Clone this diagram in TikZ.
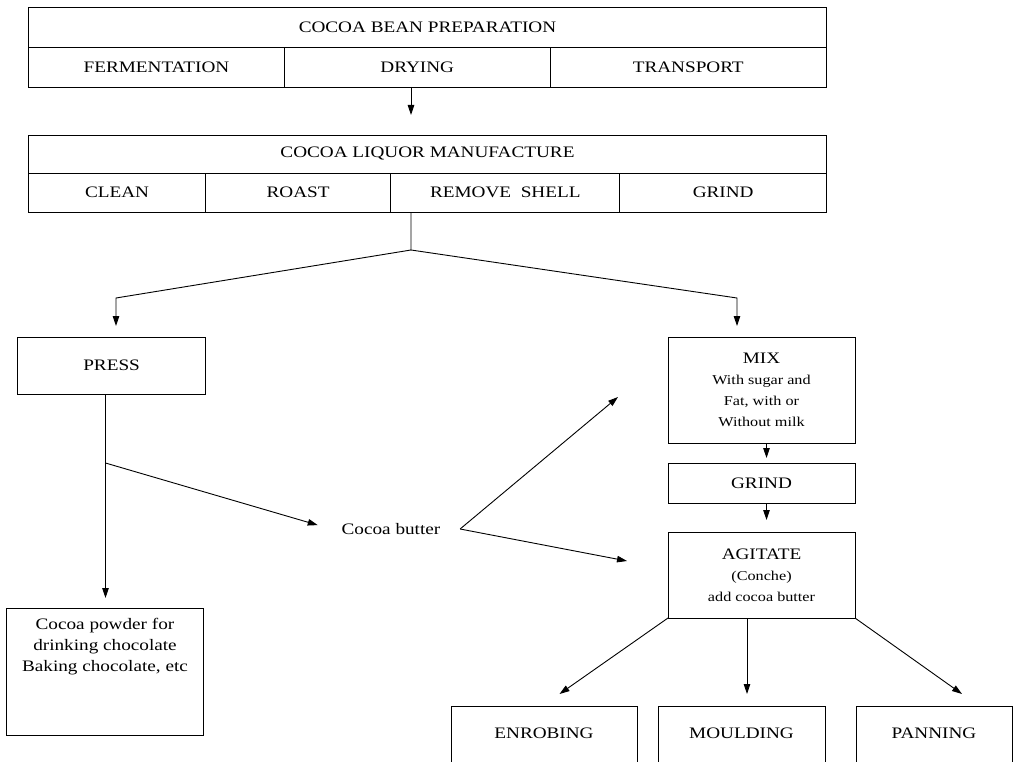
\documentclass[tikz,border=0pt]{standalone}
\usepackage{fontspec}
\setmainfont{Liberation Serif}[FakeStretch=1.2]
\usetikzlibrary{positioning,arrows.meta}
\newcommand\bigtxt{\fontsize{16}{21}\selectfont}
\newcommand\smalltxt{\fontsize{13.5}{19}\selectfont}

\begin{document}
\begin{tikzpicture}[x=1pt, y=-1pt, line width=0.9pt,
                    box/.style={draw, inner sep=0pt, outer sep=0pt, align=center, font=\bigtxt},
                    outbox/.style={box, anchor=north, text height=32pt, text depth=70pt},
                    arrow/.style={-{Triangle[length=10pt,width=6.5pt]}}]
    \useasboundingbox (0,0) rectangle (1014,762);
    % Bean preparation
    \node[box, minimum width=798, minimum height=40] (prep) at (427.5,27) {COCOA BEAN PREPARATION};
    \node[box, minimum width=256, minimum height=40, anchor=north west] (ferm) at (prep.south west) {FERMENTATION};
    \node[box, minimum width=265.5, minimum height=40, right=0pt of ferm] (dry) {DRYING};
    \node[box, minimum width=276.5, minimum height=40, right=0pt of dry] (trans) {TRANSPORT};
    % Liquor manufacture
    \node[box, minimum width=798, minimum height=38] (liquor) at (427.5,154) {COCOA LIQUOR MANUFACTURE};
    \node[box, minimum width=177, minimum height=39, anchor=north west] (clean) at (liquor.south west) {CLEAN};
    \node[box, minimum width=185.3, minimum height=39, right=0pt of clean] (roast) {ROAST};
    \node[box, minimum width=229, minimum height=39, right=0pt of roast] (shell) {REMOVE\ \ SHELL};
    \node[box, minimum width=206.7, minimum height=39, right=0pt of shell] (grinda) {GRIND};
    % Press side
    \node[box, minimum width=188, minimum height=57] (press) at (111.6,365.5) {PRESS};
    \node[box, minimum width=197.5, minimum height=127] (powder) at (105,671.5) {};
    \node[font=\bigtxt, align=center, below=6pt of powder.north] (powdertxt)
        {Cocoa powder for\\drinking chocolate\\Baking chocolate, etc};
    \node[font=\bigtxt] (butter) at (391,529) {Cocoa butter};
    % Chocolate side
    \node[box, minimum width=187, minimum height=106] (mix) at (761.5,390)
        {MIX\\\smalltxt With sugar and\\\smalltxt Fat, with or\\\smalltxt Without milk};
    \node[box, minimum width=187, minimum height=40, below=20pt of mix] (grindb) {GRIND};
    \node[box, minimum width=187, minimum height=86, below=29pt of grindb] (agitate)
        {AGITATE\\\smalltxt (Conche)\\\smalltxt add cocoa butter};
    \node[outbox, minimum width=186] (enrob) at (544,706) {ENROBING};
    \node[outbox, minimum width=167] (mould) at (741.5,706) {MOULDING};
    \node[outbox, minimum width=156] (pan) at (934,706) {PANNING};
    % Junctions
    \coordinate (split) at (411,250);
    \coordinate (lbend) at (116,298);
    \coordinate (rbend) at (737,298);
    \coordinate (pjoin) at (105.5,463);
    \coordinate (bjoin) at ([xshift=16pt]butter.east);
    \coordinate (mixtip) at (618,397);
    \coordinate (agitip) at (627,561);
    % Arrows
    \draw[arrow, shorten >=20pt] (dry.south -| split) -- (liquor.north -| split);
    \draw[arrow, shorten >=11pt] (shell.south -| split) -- (split) -- (lbend) -- (press.north -| lbend);
    \draw[arrow, shorten >=11pt] (split) -- (rbend) -- (mix.north -| rbend);
    \draw (press.south -| pjoin) -- (pjoin);
    \draw[arrow, shorten >=10pt] (pjoin) -- (powder.north -| pjoin);
    \draw[arrow, shorten >=21pt] (pjoin) -- ([yshift=-2pt]butter.west);
    \draw[arrow] (bjoin) -- (mixtip);
    \draw[arrow] (bjoin) -- (agitip);
    \draw[arrow, shorten >=5pt] ([xshift=5pt]mix.south) -- ([xshift=5pt]grindb.north);
    \draw[arrow, shorten >=12pt] ([xshift=5pt]grindb.south) -- ([xshift=5pt]agitate.north);
    \draw[arrow] (agitate.south west) -- ([xshift=15.5pt,yshift=12pt]enrob.north);
    \draw[arrow] ([xshift=5.5pt]agitate.south -| mould.north) -- ([xshift=5.5pt,yshift=12pt]mould.north);
    \draw[arrow] (agitate.south east) -- ([xshift=28pt,yshift=12pt]pan.north);
\end{tikzpicture}
\end{document}
